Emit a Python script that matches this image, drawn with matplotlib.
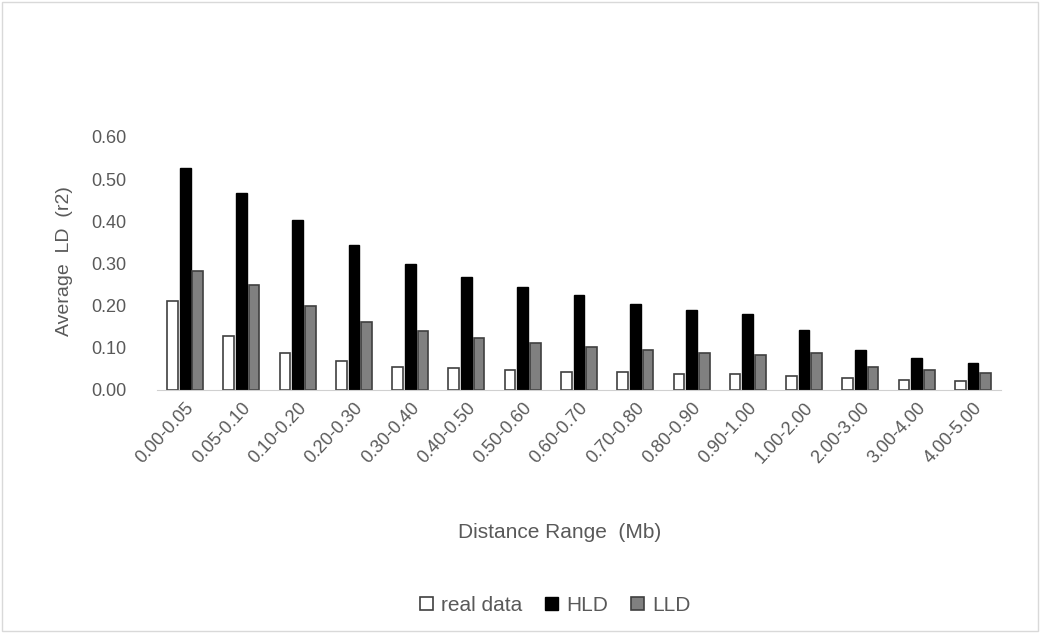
import matplotlib
matplotlib.use("Agg")
import matplotlib.pyplot as plt
import numpy as np
from matplotlib.patches import Rectangle

categories = ["0.00-0.05", "0.05-0.10", "0.10-0.20", "0.20-0.30", "0.30-0.40",
              "0.40-0.50", "0.50-0.60", "0.60-0.70", "0.70-0.80", "0.80-0.90",
              "0.90-1.00", "1.00-2.00", "2.00-3.00", "3.00-4.00", "4.00-5.00"]
real_data = [0.211, 0.128, 0.087, 0.068, 0.054, 0.051, 0.047, 0.043, 0.043, 0.038,
             0.038, 0.034, 0.028, 0.024, 0.020]
hld = [0.526, 0.468, 0.403, 0.343, 0.299, 0.267, 0.243, 0.224, 0.205, 0.190,
       0.179, 0.141, 0.095, 0.075, 0.063]
lld = [0.283, 0.250, 0.199, 0.162, 0.140, 0.122, 0.111, 0.103, 0.095, 0.087,
       0.083, 0.087, 0.055, 0.047, 0.039]
yticks = [0.0, 0.1, 0.2, 0.3, 0.4, 0.5, 0.6]

plt.rcParams['font.family'] = ['Liberation Sans', 'DejaVu Sans']
txt = '#595959'

fig = plt.figure(figsize=(10.4, 6.33), dpi=100)
ax = fig.add_axes([0.151, 0.384, 0.8115, 0.3996])

x = np.arange(len(categories))
w = 0.19
off = 0.225
ax.bar(x - off, real_data, w, color='white', edgecolor='#404040', linewidth=1.2, label='real data')
ax.bar(x, hld, w, color='black', edgecolor='black', linewidth=1.0, label='HLD')
ax.bar(x + off, lld, w, color='#808080', edgecolor='#404040', linewidth=1.2, label='LLD')

ax.set_xlim(-0.5, len(categories) - 0.5)
ax.set_ylim(0, 0.6)
ax.set_yticks(yticks)
ax.set_yticklabels([f"{v:.2f}" for v in yticks], fontsize=13, color=txt)
ax.set_xticks(x)
ax.set_xticklabels(categories, rotation=47, ha='right', rotation_mode='anchor',
                   fontsize=13, color=txt)
ax.tick_params(axis='y', length=0, pad=22)
ax.tick_params(axis='x', length=0, pad=7)
for s in ['top', 'right', 'left']:
    ax.spines[s].set_visible(False)
ax.spines['bottom'].set_color('#d0d0d0')

ax.set_ylabel("Average  LD  (r2)", fontsize=14, color=txt, labelpad=10)
ax.yaxis.set_label_coords(-0.1, 0.51)
fig.text(0.538, 0.158, "Distance Range  (Mb)", fontsize=15, color=txt, ha='center', va='center')

leg = fig.legend(loc='center', bbox_to_anchor=(0.534, 0.044), ncol=3, frameon=False,
                 fontsize=15, handlelength=0.6, handleheight=0.6, handletextpad=0.4,
                 columnspacing=1.1)
for t in leg.get_texts():
    t.set_color(txt)

fig.patches.append(Rectangle((0.002, 0.003), 0.996, 0.994, transform=fig.transFigure,
                             fill=False, edgecolor='#d9d9d9', linewidth=1.0))

fig.savefig("out.png", dpi=100)
